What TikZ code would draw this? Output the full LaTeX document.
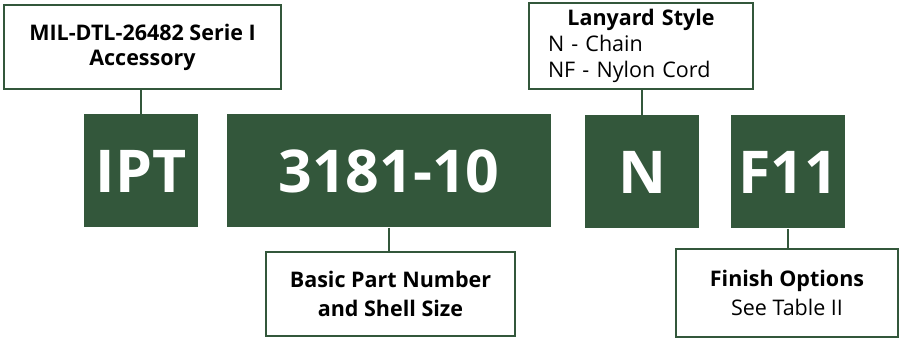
\documentclass[tikz,border=0pt]{standalone}
\usepackage{fontspec}
\setmainfont{Open Sans}
\usetikzlibrary{positioning}
\definecolor{boxgreen}{RGB}{51,87,59}

\begin{document}
\begin{tikzpicture}[x=1pt,y=1pt,
    codebox/.style={rectangle, fill=boxgreen, text=white, minimum height=113pt, inner sep=0pt,
      font=\fontsize{59}{59}\selectfont\bfseries},
    notebox/.style={rectangle, draw=boxgreen, line width=1.8pt, fill=white, inner sep=0pt,
      align=center, font=\fontsize{21.5}{29}\selectfont},
    link/.style={draw=boxgreen, line width=1.8pt}]

  \useasboundingbox (0,0) rectangle (899,339);

  % part number fields
  \node [codebox, minimum width=114pt] (ipt) at (141,168) {IPT};
  \node [codebox, minimum width=324pt] (part) at (389,168) {3181-10};
  \node [codebox, minimum width=114pt] (lan) at (642,167) {N};
  \node [codebox, minimum width=114pt] (fin) at (788,167) {F11};

  % explanations
  \node [notebox, minimum width=277pt, minimum height=84pt, font=\fontsize{21.5}{25}\selectfont]
        (milnote) at (142.5,292) {\bfseries MIL-DTL-26482 Serie I\\ \bfseries Accessory};
  \node [notebox, minimum width=224pt, minimum height=86pt, align=left, text width=186pt,
         font=\fontsize{21.5}{26}\selectfont] (lannote) at (641,293)
        {\makebox[\linewidth]{\bfseries Lanyard Style}\\ N - Chain\\ NF - Nylon Cord};
  \node [notebox, minimum width=249pt, minimum height=84pt] (partnote) at (390.5,45)
        {\bfseries Basic Part Number\\ \bfseries and Shell Size};
  \node [notebox, minimum width=222pt, minimum height=88pt] (finnote) at (787,46)
        {\bfseries Finish Options\\ See Table II};

  \draw [link] (ipt.north) -- (ipt.north |- milnote.south);
  \draw [link] (lan.north) -- (lan.north |- lannote.south);
  \draw [link] (part.south) -- (part.south |- partnote.north);
  \draw [link] (fin.south) -- (fin.south |- finnote.north);

\end{tikzpicture}
\end{document}
